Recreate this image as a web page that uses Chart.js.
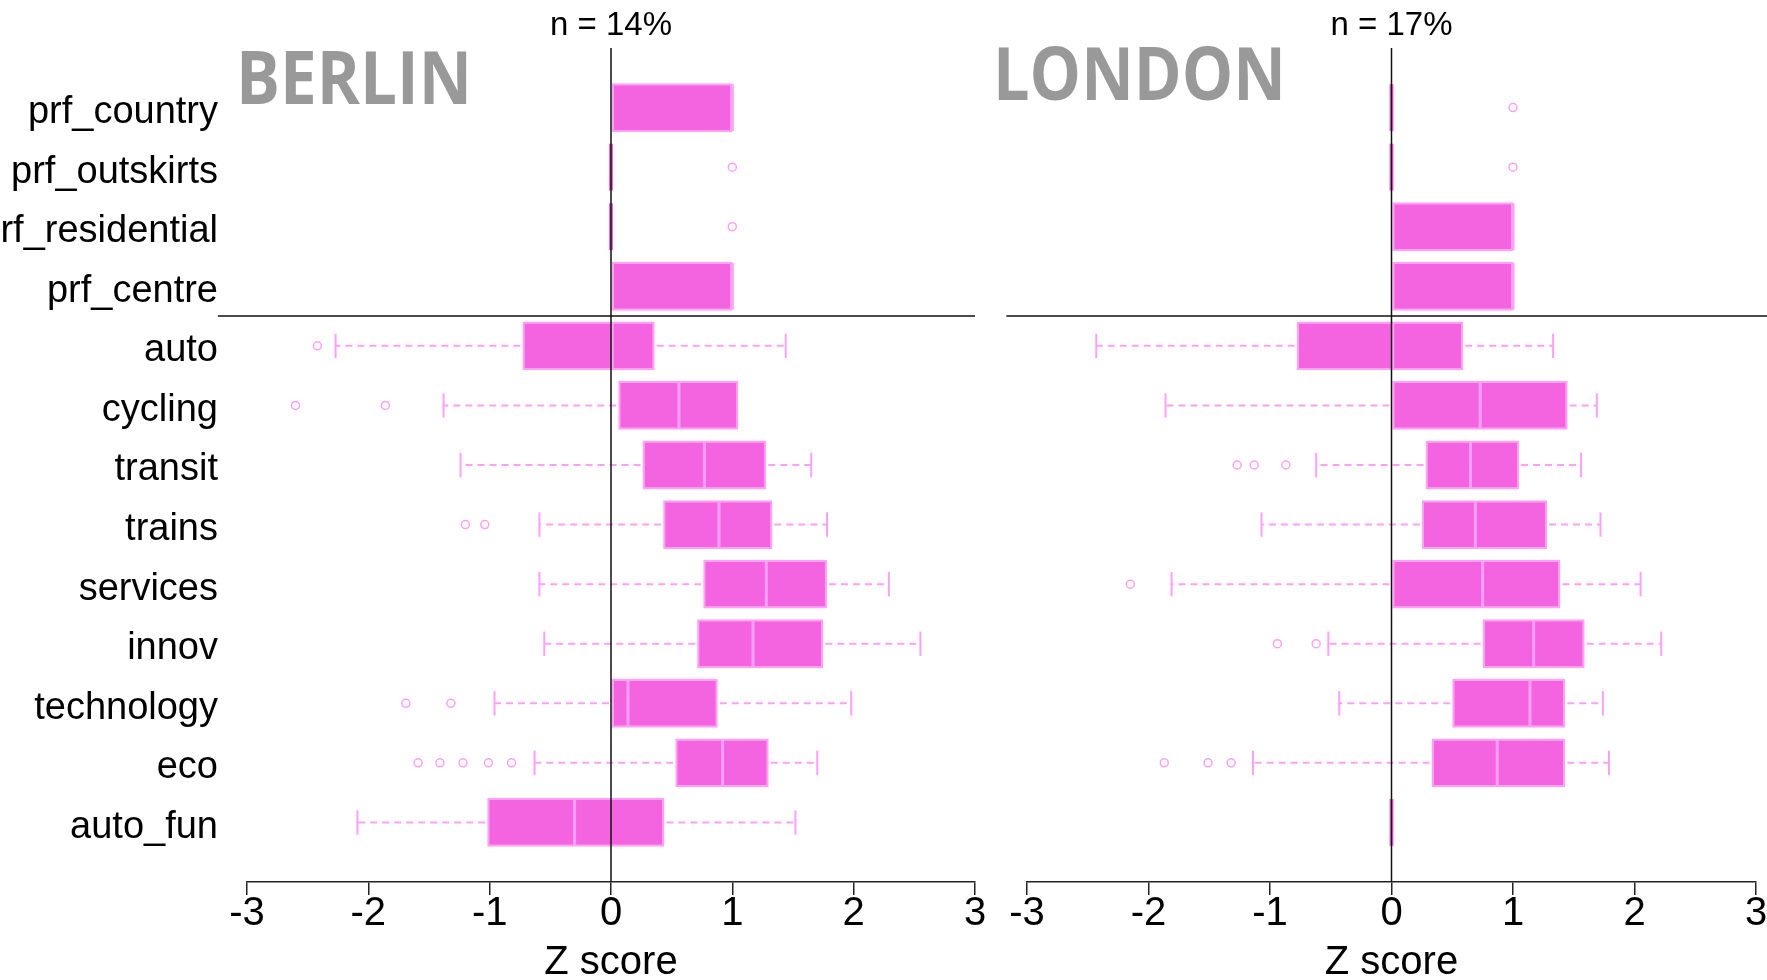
<!DOCTYPE html>
<html>
<head>
<meta charset="utf-8">
<title>Z score - Berlin / London</title>
<script src="https://cdn.jsdelivr.net/npm/chart.js@4.4.1/dist/chart.umd.min.js"></script>
<style>
  body { margin: 0; background: #fff; width: 1767px; height: 980px; overflow: hidden; position: relative; }
  canvas { position: absolute; top: 0; }
  #graficaBerlin { left: 0; }
  #graficaLondres { left: 990px; }
</style>
</head>
<body>
<canvas id="graficaBerlin" width="1000" height="980"></canvas>
<canvas id="graficaLondres" width="777" height="980"></canvas>
<script>
// categorias de arriba hacia abajo
const categorias = ['prf_country', 'prf_outskirts', 'prf_residential', 'prf_centre', 'auto', 'cycling',
                    'transit', 'trains', 'services', 'innov', 'technology', 'eco', 'auto_fun'];
const ticksX = [-3, -2, -1, 0, 1, 2, 3];

// Berlin: bigote inferior, Q1, mediana, Q3, bigote superior, atipicos
const berlinMin = [0, 0, 0, 0, -2.27, -1.38, -1.24, -0.59, -0.59, -0.55, -0.96, -0.63, -2.09];
const berlinQ1  = [0, 0, 0, 0, -0.73, 0.06, 0.26, 0.43, 0.76, 0.71, 0.00, 0.53, -1.02];
const berlinMed = [1, 0, 0, 1, 0.01, 0.56, 0.77, 0.89, 1.28, 1.17, 0.14, 0.92, -0.30];
const berlinQ3  = [1, 0, 0, 1, 0.36, 1.05, 1.28, 1.33, 1.78, 1.75, 0.88, 1.30, 0.44];
const berlinMax = [1, 0, 0, 1, 1.44, 1.05, 1.65, 1.78, 2.29, 2.55, 1.98, 1.70, 1.52];
const berlinAtipicos = [[], [1], [1], [], [-2.42], [-2.60, -1.86], [], [-1.20, -1.04], [], [],
                        [-1.69, -1.32], [-1.59, -1.41, -1.22, -1.01, -0.82], []];

// London
const londonMin = [0, 0, 0, 0, -2.43, -1.86, -0.62, -1.07, -1.81, -0.52, -0.43, -1.14, 0];
const londonQ1  = [0, 0, 0, 0, -0.78, 0.00, 0.28, 0.25, 0.00, 0.75, 0.50, 0.33, 0];
const londonMed = [0, 0, 1, 1, 0.01, 0.73, 0.65, 0.69, 0.75, 1.17, 1.14, 0.87, 0];
const londonQ3  = [0, 0, 1, 1, 0.59, 1.45, 1.05, 1.28, 1.39, 1.59, 1.43, 1.43, 0];
const londonMax = [0, 0, 1, 1, 1.33, 1.69, 1.56, 1.72, 2.05, 2.22, 1.74, 1.79, 0];
const londonAtipicos = [[1], [1], [], [], [], [], [-1.27, -1.13, -0.87], [], [-2.15], [-0.94, -0.62],
                        [], [-1.87, -1.51, -1.32], []];

const COLOR_CAJA  = '#F464E0';
const COLOR_CLARO = '#FFA0F8';
const FUENTE = '"Liberation Sans", Arial, sans-serif';

function crearGrafica(canvasId, cfg) {
    const ctx = document.getElementById(canvasId).getContext('2d');

    // una fila vacia arriba y otra abajo para dejar el margen del grafico de R
    const etiquetas = ['', ...categorias, ''];
    const cajas = [null, ...categorias.map((c, i) => [cfg.q1[i], cfg.q3[i]]), null];
    const puntos = [];
    cfg.atipicos.forEach((lista, i) => {
        lista.forEach(v => puntos.push({ x: v, y: categorias[i] }));
    });

    const pluginCajas = {
        id: 'cajas' + canvasId,
        afterDatasetsDraw(chart) {
            const c = chart.ctx;
            const { x, y } = chart.scales;
            const paso = y.getPixelForValue(2) - y.getPixelForValue(1);
            const medio = paso * 0.41;

            c.save();
            categorias.forEach((cat, i) => {
                const yc = y.getPixelForValue(i + 1);
                const xq1 = x.getPixelForValue(cfg.q1[i]);
                const xq3 = x.getPixelForValue(cfg.q3[i]);

                // bigotes
                c.strokeStyle = COLOR_CLARO;
                c.lineWidth = 2;
                if (cfg.min[i] < cfg.q1[i]) {
                    const xm = x.getPixelForValue(cfg.min[i]);
                    c.setLineDash([7, 5]);
                    c.beginPath(); c.moveTo(xq1 - 2, yc); c.lineTo(xm, yc); c.stroke();
                    c.setLineDash([]);
                    c.beginPath(); c.moveTo(xm, yc - medio / 2); c.lineTo(xm, yc + medio / 2); c.stroke();
                }
                if (cfg.max[i] > cfg.q3[i]) {
                    const xM = x.getPixelForValue(cfg.max[i]);
                    c.setLineDash([7, 5]);
                    c.beginPath(); c.moveTo(xq3 + 2, yc); c.lineTo(xM, yc); c.stroke();
                    c.setLineDash([]);
                    c.beginPath(); c.moveTo(xM, yc - medio / 2); c.lineTo(xM, yc + medio / 2); c.stroke();
                }

                // mediana (si la caja no tiene ancho se ve como linea magenta)
                const xmed = x.getPixelForValue(cfg.med[i]);
                if (cfg.q1[i] === cfg.q3[i]) {
                    c.strokeStyle = COLOR_CAJA;
                    c.lineWidth = 4;
                } else {
                    c.strokeStyle = COLOR_CLARO;
                    c.lineWidth = 3;
                }
                c.beginPath(); c.moveTo(xmed, yc - medio + 1); c.lineTo(xmed, yc + medio - 1); c.stroke();
            });

            // linea del cero
            const x0 = x.getPixelForValue(0);
            c.strokeStyle = '#111';
            c.lineWidth = 1.5;
            c.beginPath(); c.moveTo(x0, chart.chartArea.top); c.lineTo(x0, chart.chartArea.bottom); c.stroke();

            // separador entre preferencias y actitudes
            const ySep = (y.getPixelForValue(4) + y.getPixelForValue(5)) / 2;
            c.beginPath();
            c.moveTo(x.getPixelForValue(cfg.sepDesde), ySep);
            c.lineTo(x.getPixelForValue(cfg.sepHasta), ySep);
            c.stroke();
            c.restore();
        },
        afterDraw(chart) {
            const c = chart.ctx;
            const x0 = chart.scales.x.getPixelForValue(0);
            c.save();
            c.fillStyle = '#000';
            c.font = '33px ' + FUENTE;
            c.textAlign = 'center';
            c.textBaseline = 'middle';
            c.fillText(cfg.n, x0, 26);

            // nombre de la ciudad, letra negrita estrecha
            c.font = 'bold 74px "Open Sans", "Liberation Sans", Arial, sans-serif';
            c.fillStyle = '#999999';
            c.textAlign = 'left';
            c.textBaseline = 'alphabetic';
            const ancho = c.measureText(cfg.ciudad).width;
            c.translate(cfg.ciudadX, cfg.ciudadY);
            c.scale(cfg.ciudadAncho / ancho, 1);
            c.fillText(cfg.ciudad, 0, 0);
            c.restore();
        }
    };

    return new Chart(ctx, {
        type: 'bar',
        data: {
            labels: etiquetas,
            datasets: [
                {
                    type: 'bar',
                    data: cajas,
                    backgroundColor: COLOR_CAJA,
                    borderColor: COLOR_CLARO,
                    borderWidth: 2,
                    borderSkipped: false,
                    categoryPercentage: 1,
                    barPercentage: 0.82
                },
                {
                    type: 'line',
                    data: puntos,
                    showLine: false,
                    pointStyle: 'circle',
                    pointRadius: 4,
                    pointBackgroundColor: 'rgba(255,255,255,0)',
                    pointBorderColor: COLOR_CLARO,
                    pointBorderWidth: 1.5
                }
            ]
        },
        options: {
            indexAxis: 'y',
            responsive: false,
            animation: false,
            events: [],
            layout: { padding: cfg.padding },
            plugins: {
                legend: { display: false },
                tooltip: { enabled: false },
                title: { display: false }
            },
            scales: {
                x: {
                    type: 'linear',
                    min: ticksX[0],
                    max: ticksX[ticksX.length - 1],
                    afterBuildTicks: (scale) => { scale.ticks = ticksX.map(v => ({ value: v })); },
                    afterFit: (scale) => { scale.height = 98; },
                    ticks: {
                        color: '#000',
                        padding: -5,
                        font: { family: FUENTE, size: 40 },
                        maxRotation: 0
                    },
                    grid: {
                        display: true,
                        drawOnChartArea: false,
                        drawTicks: true,
                        tickLength: 13,
                        color: '#222',
                        lineWidth: 1.5
                    },
                    border: { display: true, color: '#222', width: 1.5 },
                    title: {
                        display: true,
                        text: 'Z score',
                        color: '#000',
                        font: { family: FUENTE, size: 40, lineHeight: 1 },
                        padding: { top: 0, bottom: -3 }
                    }
                },
                y: {
                    type: 'category',
                    offset: false,
                    display: cfg.mostrarEtiquetas,
                    afterFit: (scale) => { if (cfg.mostrarEtiquetas) scale.width = 247; },
                    ticks: {
                        autoSkip: false,
                        color: '#000',
                        padding: 21,
                        labelOffset: 5,
                        font: { family: FUENTE, size: 38 }
                    },
                    grid: { display: false },
                    border: { display: false }
                }
            }
        },
        plugins: [pluginCajas]
    });
}

crearGrafica('graficaBerlin', {
    ciudad: 'BERLIN', n: 'n = 14%',
    ciudadX: 236, ciudadY: 104, ciudadAncho: 236,
    min: berlinMin, q1: berlinQ1, med: berlinMed, q3: berlinQ3, max: berlinMax,
    atipicos: berlinAtipicos,
    sepDesde: -3.24, sepHasta: 3,
    mostrarEtiquetas: true,
    padding: { top: 48, right: 25, bottom: 0, left: 0 }
});

crearGrafica('graficaLondres', {
    ciudad: 'LONDON', n: 'n = 17%',
    ciudadX: 3, ciudadY: 100, ciudadAncho: 293,
    min: londonMin, q1: londonQ1, med: londonMed, q3: londonQ3, max: londonMax,
    atipicos: londonAtipicos,
    sepDesde: -3.17, sepHasta: 3.24,
    mostrarEtiquetas: false,
    padding: { top: 48, right: 11, bottom: 0, left: 37 }
});
</script>
</body>
</html>
